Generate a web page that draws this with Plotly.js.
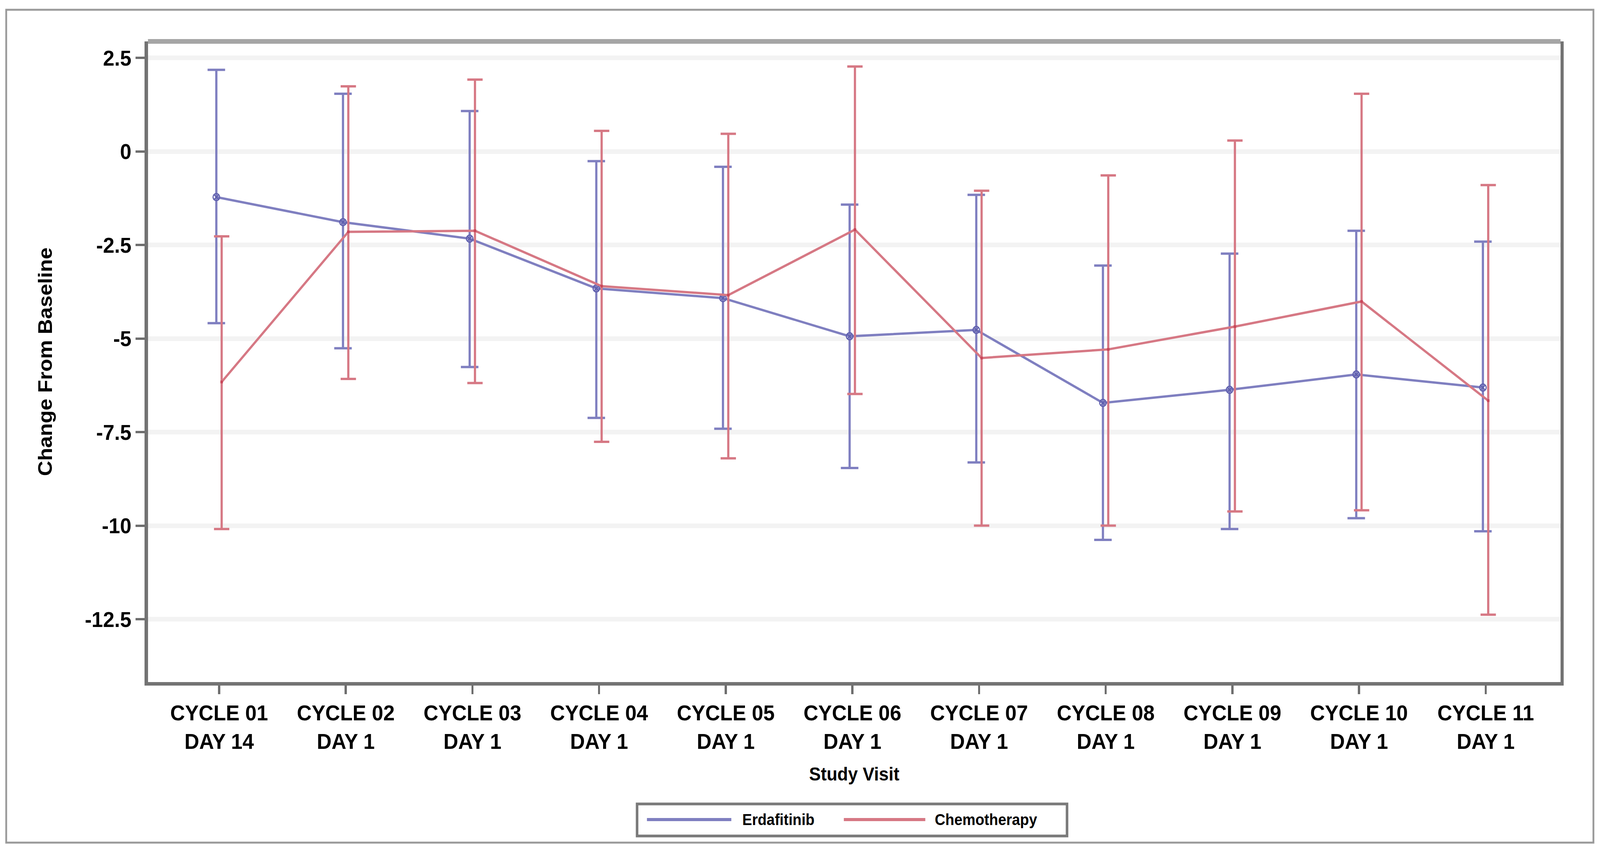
<!DOCTYPE html>
<html>
<head>
<meta charset="utf-8">
<script src="https://cdn.plot.ly/plotly-3.0.1.min.js"></script>
<style>
  html, body { margin: 0; padding: 0; background: #fff; overflow: hidden; }
  #chart { width: 4380px; height: 2181px; transform-origin: 0 0; }
</style>
</head>
<body>
<div id="chart"></div>
<script>
const visits = ['CYCLE 01<br>DAY 14', 'CYCLE 02<br>DAY 1', 'CYCLE 03<br>DAY 1', 'CYCLE 04<br>DAY 1',
  'CYCLE 05<br>DAY 1', 'CYCLE 06<br>DAY 1', 'CYCLE 07<br>DAY 1', 'CYCLE 08<br>DAY 1',
  'CYCLE 09<br>DAY 1', 'CYCLE 10<br>DAY 1', 'CYCLE 11<br>DAY 1'];

// Erdafitinib: mean change and bar ends
const erdaMean  = [-1.22, -1.89, -2.33, -3.66, -3.92, -4.94, -4.77, -6.72, -6.37, -5.96, -6.31];
const erdaUpper = [2.18, 1.54, 1.08, -0.26, -0.41, -1.42, -1.16, -3.05, -2.73, -2.12, -2.41];
const erdaLower = [-4.59, -5.26, -5.76, -7.12, -7.41, -8.46, -8.31, -10.38, -10.09, -9.80, -10.15];

// Chemotherapy
const chemoMean  = [-6.16, -2.15, -2.12, -3.60, -3.84, -2.09, -5.52, -5.29, -4.68, -4.01, -6.66];
const chemoUpper = [-2.27, 1.74, 1.92, 0.55, 0.47, 2.27, -1.05, -0.64, 0.29, 1.54, -0.90];
const chemoLower = [-10.09, -6.08, -6.19, -7.76, -8.20, -6.48, -10.00, -10.00, -9.62, -9.59, -12.38];

const yTicks = [2.5, 0, -2.5, -5, -7.5, -10, -12.5];
const seriesNames = ['Erdafitinib', 'Chemotherapy'];

const BLUE = '#7f7fc0';
const RED = '#d67884';
const FONT = 'Liberation Sans, Arial, sans-serif';

const idx = visits.map((_, i) => i);
const diff = (a, b) => a.map((v, i) => v - b[i]);

const traces = [
  {
    x: idx.map(i => i - 0.022), y: erdaMean, name: seriesNames[0],
    type: 'scatter', mode: 'lines+markers',
    line: { color: BLUE, width: 6 },
    marker: { symbol: 'circle-x-open', size: 18, color: '#5f5fae', line: { width: 3, color: '#5f5fae' } },
    error_y: { type: 'data', symmetric: false, array: diff(erdaUpper, erdaMean), arrayminus: diff(erdaMean, erdaLower),
      color: BLUE, thickness: 6, width: 24 },
  },
  {
    x: idx.map(i => i + 0.02), y: chemoMean, name: seriesNames[1],
    type: 'scatter', mode: 'lines+markers',
    line: { color: RED, width: 6 },
    marker: { symbol: 'square', size: 7, color: '#c9475a' },
    error_y: { type: 'data', symmetric: false, array: diff(chemoUpper, chemoMean), arrayminus: diff(chemoMean, chemoLower),
      color: RED, thickness: 6, width: 21 },
  },
];

// plot area in pixels, used for the frame and legend decorations
const L = 405, R = 4272, T = 106, B = 1746;
const pw = R - L, ph = B - T;
const px = v => (v - L) / pw;
const py = v => (B - v) / ph;
const legY = 2098;

const layout = {
  width: 4380, height: 2181,
  paper_bgcolor: '#ffffff', plot_bgcolor: '#ffffff',
  font: { family: FONT, color: '#000', size: 40 },
  margin: { l: L, r: 4380 - R, t: T, b: 2181 - B },
  showlegend: false,
  xaxis: {
    range: [-0.562, 10.591], tickvals: idx, ticktext: visits,
    showgrid: false, zeroline: false,
    showline: true, linecolor: '#737373', linewidth: 9,
    ticks: 'outside', ticklen: 22, tickwidth: 6, tickcolor: '#6e6e6e',
    tickfont: { family: FONT, size: 56, color: '#000', weight: 'bold' },
    title: { text: 'Study Visit', font: { family: FONT, size: 48, color: '#000', weight: 'bold' }, standoff: 40 },
  },
  yaxis: {
    range: [-14.18, 2.94], tickvals: yTicks, ticktext: yTicks.map(String),
    showgrid: true, gridcolor: '#f3f3f3', gridwidth: 12, zeroline: false,
    showline: true, linecolor: '#737373', linewidth: 9, mirror: true,
    ticks: 'outside', ticklen: 25, tickwidth: 6, tickcolor: '#6e6e6e',
    tickfont: { family: FONT, size: 56, color: '#000', weight: 'bold' },
    title: { text: 'Change From Baseline', font: { family: FONT, size: 54, color: '#000', weight: 'bold' }, standoff: 75 },
  },
  shapes: [
    { type: 'line', xref: 'paper', yref: 'paper', x0: 0, x1: 1, y0: 1, y1: 1,
      line: { color: '#a5a5a5', width: 12 } },
    { type: 'rect', xref: 'paper', yref: 'paper', x0: px(17), x1: px(4362), y0: py(25), y1: py(2157),
      line: { color: '#9a9a9a', width: 5 }, layer: 'below' },
    // legend box and samples
    { type: 'rect', xref: 'paper', yref: 'paper', x0: px(1744), x1: px(2921), y0: py(2058), y1: py(2140),
      line: { color: '#7a7a7a', width: 7 }, fillcolor: '#ffffff' },
    { type: 'line', xref: 'paper', yref: 'paper', x0: px(1771), x1: px(2002), y0: py(legY), y1: py(legY),
      line: { color: BLUE, width: 8 } },
    { type: 'line', xref: 'paper', yref: 'paper', x0: px(2310), x1: px(2533), y0: py(legY), y1: py(legY),
      line: { color: RED, width: 8 } },
  ],
  annotations: [
    { xref: 'paper', yref: 'paper', x: px(2030), y: py(legY), xanchor: 'left', yanchor: 'middle', showarrow: false,
      text: seriesNames[0], font: { family: FONT, size: 40, color: '#000', weight: 'bold' } },
    { xref: 'paper', yref: 'paper', x: px(2557), y: py(legY), xanchor: 'left', yanchor: 'middle', showarrow: false,
      text: seriesNames[1], font: { family: FONT, size: 40, color: '#000', weight: 'bold' } },
  ],
};

// the viewport can be narrower than the design size; scale the whole figure to fill it
const el = document.getElementById('chart');
const sx = window.innerWidth / 4380, sy = window.innerHeight / 2181;
if (Math.abs(sx - 1) > 0.002 || Math.abs(sy - 1) > 0.002) {
  el.style.transform = 'scale(' + sx + ',' + sy + ')';
}
Plotly.newPlot(el, traces, layout, { displayModeBar: false, staticPlot: true });
</script>
</body>
</html>
